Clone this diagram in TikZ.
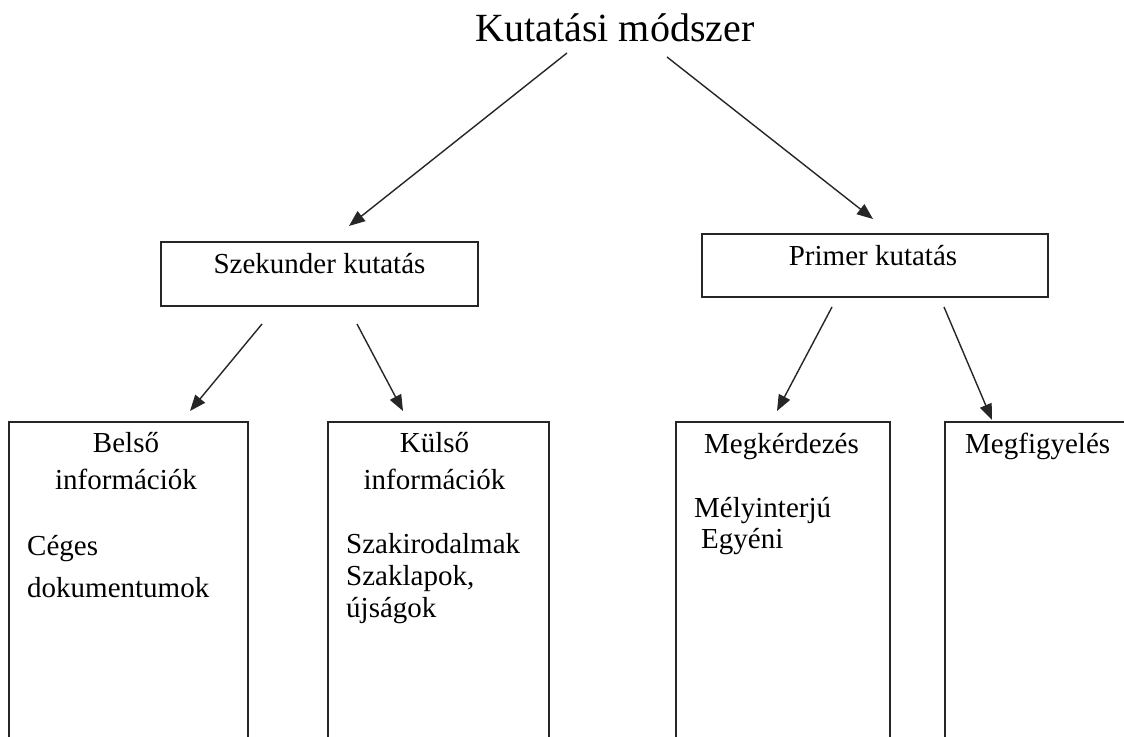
\documentclass[tikz,border=0pt]{standalone}
\usepackage{fontspec}
\setmainfont{Liberation Serif}
\usetikzlibrary{arrows.meta}
\tikzset{
  box/.style={draw=black!85, line width=1.5pt, rectangle, inner sep=0pt},
  lbl/.style={inner sep=0pt, font=\fontsize{29}{31}\selectfont},
  ttl/.style={inner sep=0pt, font=\fontsize{40}{42}\selectfont},
  arr/.style={draw=black!85, line width=1.4pt, -{Triangle[length=16pt,width=12.5pt]}}
}
\begin{document}
\begin{tikzpicture}[x=1pt,y=-1pt]
\useasboundingbox (0,0) rectangle (1124,736);
\clip (0,0) rectangle (1124,736);
\fill[white] (0,0) rectangle (1124,736);
% title
\node[ttl, anchor=base] (title) at (615,41) {Kutatási módszer};
% middle boxes
\node[box, minimum width=317pt, minimum height=64pt] (szek) at (319.5,274) {};
\node[lbl, anchor=base] (szekt) at (319.5,273) {Szekunder kutatás};
\node[box, minimum width=346pt, minimum height=63pt] (prim) at (875,265.5) {};
\node[lbl, anchor=base] (primt) at (873,265) {Primer kutatás};
% bottom boxes (cut by the lower edge)
\node[box, minimum width=239pt, minimum height=360pt, anchor=north west] (belso) at (8,421) {};
\node[box, minimum width=221pt, minimum height=360pt, anchor=north west] (kulso) at (327,421) {};
\node[box, minimum width=214pt, minimum height=360pt, anchor=north west] (megk) at (675,421) {};
\node[box, minimum width=220pt, minimum height=360pt, anchor=north west] (megf) at (944,421) {};
% texts in bottom boxes
\node[lbl, anchor=base] (b1) at (126,452) {Belső};
\node[lbl, anchor=base] (b2) at (126,489) {információk};
\node[lbl, anchor=base west] (b3) at (27,555) {Céges};
\node[lbl, anchor=base west] (b4) at (27,597) {dokumentumok};
\node[lbl, anchor=base] (k1) at (434.5,452) {Külső};
\node[lbl, anchor=base] (k2) at (434.5,489) {információk};
\node[lbl, anchor=base west] (k3) at (346,553) {Szakirodalmak};
\node[lbl, anchor=base west] (k4) at (346,585) {Szaklapok,};
\node[lbl, anchor=base west] (k5) at (346,617) {újságok};
\node[lbl, anchor=base] (m1) at (781.5,453) {Megkérdezés};
\node[lbl, anchor=base west] (m2) at (694,517) {Mélyinterjú};
\node[lbl, anchor=base west] (m3) at (701,548) {Egyéni};
\node[lbl, anchor=base west] (f1) at (965,453) {Megfigyelés};
% arrow end points
\coordinate (t1) at (567,53);   \coordinate (t1e) at (349,226);
\coordinate (t2) at (667,57);   \coordinate (t2e) at (873,219);
\coordinate (s1) at (262,324);  \coordinate (s1e) at (190,411);
\coordinate (s2) at (357,324);  \coordinate (s2e) at (403,411);
\coordinate (p1) at (832,307);  \coordinate (p1e) at (777,411);
\coordinate (p2) at (944,307);  \coordinate (p2e) at (992,420);
\draw[arr] (t1) -- (t1e);
\draw[arr] (t2) -- (t2e);
\draw[arr] (s1) -- (s1e);
\draw[arr] (s2) -- (s2e);
\draw[arr] (p1) -- (p1e);
\draw[arr] (p2) -- (p2e);
\end{tikzpicture}
\end{document}
